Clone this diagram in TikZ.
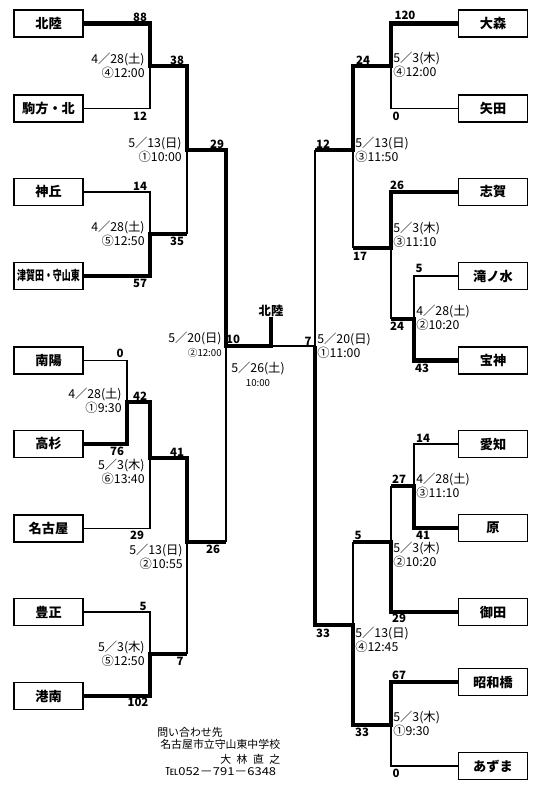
\documentclass[tikz,border=0pt]{standalone}
\usepackage{fontspec}
\usepackage{graphicx}
\newfontfamily\jp{Noto Sans CJK JP}
\tikzset{
  team/.style={draw, line width=0.6pt, fill=white, minimum width=1.38cm, minimum height=0.54cm, inner sep=0pt, font=\jp\bfseries\fontsize{7.5}{8}\selectfont},
  win/.style={line width=2.3pt},
  lose/.style={line width=0.6pt},
  pts/.style={inner sep=0pt, font=\jp\bfseries\fontsize{6.5}{7}\selectfont},
  when/.style={inner sep=0pt, font=\jp\fontsize{7}{8}\selectfont},
  whenl/.style={when, anchor=east, align=right},
  whenr/.style={when, anchor=west, align=left},
  note/.style={inner sep=0pt, anchor=west, font=\jp\fontsize{6.2}{7}\selectfont},
}
\newcommand{\smalltime}{\fontsize{5.5}{6}\selectfont}
\begin{document}
\begin{tikzpicture}[x=0.02cm, y=-0.02cm]
\useasboundingbox (0,0) rectangle (551,800);
% left teams
\node[team] (hokuriku) at (48.5,23.5) {北陸};
\node[team] (komakata) at (48.5,108.5) {駒方・北};
\node[team] (kamioka) at (48.5,192) {神丘};
\node[team] (tsugata) at (48.5,276) {\scalebox{0.68}[1]{津賀田・守山東}};
\node[team] (nanyo) at (48.5,360.5) {南陽};
\node[team] (takasugi) at (48.5,444) {高杉};
\node[team] (nagoya) at (48.5,528.5) {名古屋};
\node[team] (hosei) at (48.5,612) {豊正};
\node[team] (konan) at (48.5,696) {港南};
% right teams
\node[team] (omori) at (493,23.5) {大森};
\node[team] (yada) at (493,108.5) {矢田};
\node[team] (shiga) at (493,192) {志賀};
\node[team] (takinomizu) at (493,276) {滝ノ水};
\node[team] (hojin) at (493,360.5) {宝神};
\node[team] (aichi) at (493,444) {愛知};
\node[team] (hara) at (493,528) {原};
\node[team] (misota) at (493,612) {御田};
\node[team] (showabashi) at (493,682) {昭和橋};
\node[team] (azuma) at (493,766) {あずま};
\node[pts, font=\jp\bfseries\fontsize{7}{8}\selectfont] (champ) at (271,311) {北陸};
% match points
\coordinate (m1) at (150,66);
\coordinate (m2) at (150,234);
\coordinate (m3) at (187,150);
\coordinate (m4) at (127,402);
\coordinate (m5) at (150,458);
\coordinate (m6) at (150,654);
\coordinate (m7) at (187,542);
\coordinate (m8) at (226,346);
\coordinate (r1) at (391,66);
\coordinate (r2) at (391,248);
\coordinate (r3) at (414,319);
\coordinate (r4) at (353,150);
\coordinate (r5) at (414,486);
\coordinate (r6) at (391,542);
\coordinate (r7) at (353,625);
\coordinate (r8) at (391,725);
\coordinate (r9) at (315,346);
% left bracket
\draw[win] (hokuriku.east) -| (m1) -| (m3) -| (m8) -| (champ.south);
\draw[lose] (komakata.east) -| (m1);
\draw[lose] (kamioka.east) -| (m2);
\draw[win] (tsugata.east) -| (m2) -- (m2 -| m3);
\draw[lose] (m2 -| m3) -- (m3);
\draw[lose] (nanyo.east) -| (m4);
\draw[win] (takasugi.east) -| (m4) -| (m5) -| (m7) -- (m7 -| m8);
\draw[lose] (m7 -| m8) -- (m8);
\draw[lose] (nagoya.east) -| (m5);
\draw[lose] (hosei.east) -| (m6);
\draw[win] (konan.east) -| (m6) -- (m6 -| m7);
\draw[lose] (m6 -| m7) -- (m7);
% right bracket
\draw[win] (omori.west) -| (r1) -| (r4) -- (r4 -| r9);
\draw[lose] (r4 -| r9) -- (r9);
\draw[lose] (yada.west) -| (r1);
\draw[win] (shiga.west) -| (r2) -- (r2 -| r4);
\draw[lose] (r2 -| r4) -- (r4);
\draw[lose] (takinomizu.west) -| (r3);
\draw[win] (hojin.west) -| (r3) -- (r3 -| r2);
\draw[lose] (r3 -| r2) -- (r2);
\draw[lose] (aichi.west) -| (r5);
\draw[win] (hara.west) -| (r5) -- (r5 -| r6);
\draw[lose] (r5 -| r6) -- (r6);
\draw[win] (misota.west) -| (r6) -- (r6 -| r7);
\draw[lose] (r6 -| r7) -- (r7);
\draw[win] (showabashi.west) -| (r8) -| (r7) -| (r9);
\draw[lose] (azuma.west) -| (r8);
\draw[lose] (r9) -- (champ.south |- r9);
% scores
\node[pts] (s1a) at (140,17) {88};
\node[pts] (s1b) at (140,116) {12};
\node[pts] (s3a) at (177,60) {38};
\node[pts] (s2a) at (140,186) {14};
\node[pts] (s2b) at (140,283) {57};
\node[pts] (s3b) at (177,241) {35};
\node[pts] (s8a) at (217,144) {29};
\node[pts] (s4a) at (120,353) {0};
\node[pts] (s4b) at (117,451) {76};
\node[pts] (s5a) at (140,396) {42};
\node[pts] (s5b) at (137,535) {29};
\node[pts] (s7a) at (177,452) {41};
\node[pts] (s6a) at (143,606) {5};
\node[pts] (s6b) at (138,702) {102};
\node[pts] (s7b) at (180,661) {7};
\node[pts] (s8b) at (213,549) {26};
\node[pts] (sfa) at (233,339) {10};
\node[pts] (sfb) at (308,341) {7};
\node[pts] (t1a) at (405,15) {120};
\node[pts] (t1b) at (396,116) {0};
\node[pts] (t4a) at (363,60) {24};
\node[pts] (t9a) at (323,144) {12};
\node[pts] (t2a) at (397,185) {26};
\node[pts] (t4b) at (360,256) {17};
\node[pts] (t3a) at (419,268) {5};
\node[pts] (t2b) at (397,326) {24};
\node[pts] (t3b) at (422,368) {43};
\node[pts] (t5a) at (423,438) {14};
\node[pts] (t6a) at (399,479) {27};
\node[pts] (t5b) at (423,535) {41};
\node[pts] (t7a) at (358,535) {5};
\node[pts] (t6b) at (399,618) {29};
\node[pts] (t9b) at (323,633) {33};
\node[pts] (t8a) at (399,675) {67};
\node[pts] (t7b) at (362,732) {33};
\node[pts] (t8b) at (396,773) {0};
% dates
\node[whenl] (d1) at (145,66) {4／28(土)\\④12:00};
\node[whenl] (d3) at (182,150) {5／13(日)\\①10:00};
\node[whenl] (d2) at (145,234) {4／28(土)\\⑤12:50};
\node[whenl] (d8) at (222,344.5) {5／20(日)\\{\smalltime ②12:00}};
\node[whenl] (d4) at (122,401) {4／28(土)\\①9:30};
\node[whenl] (d5) at (145,471.5) {5／3(木)\\⑥13:40};
\node[whenl] (d7) at (183,556.5) {5／13(日)\\②10:55};
\node[whenl] (d6) at (145,653.5) {5／3(木)\\⑤12:50};
\node[when, align=center] (dfin) at (258,374) {5／26(土)\\{\smalltime 10:00}};
\node[whenr] (e1) at (393,65) {5／3(木)\\④12:00};
\node[whenr] (e4) at (355,150) {5／13(日)\\③11:50};
\node[whenr] (e2) at (393,234.5) {5／3(木)\\③11:10};
\node[whenr] (e3) at (416,317.5) {4／28(土)\\②10:20};
\node[whenr] (e9) at (317,345.5) {5／20(日)\\①11:00};
\node[whenr] (e5) at (416,486) {4／28(土)\\③11:10};
\node[whenr] (e6) at (393,555) {5／3(木)\\②10:20};
\node[whenr] (e7) at (355,639.5) {5／13(日)\\④12:45};
\node[whenr] (e8) at (393,723.5) {5／3(木)\\①9:30};
% contact
\node[note] (f1) at (157,732) {問い合わせ先};
\node[note] (f2) at (160,744) {名古屋市立守山東中学校};
\node[note] (f3) at (220,759) {大\hspace{0.5em}林\hspace{0.5em}直\hspace{0.5em}之};
\node[note] (f4) at (165,772) {\scalebox{1.19}[1]{℡052－791－6348}};
\end{tikzpicture}
\end{document}
